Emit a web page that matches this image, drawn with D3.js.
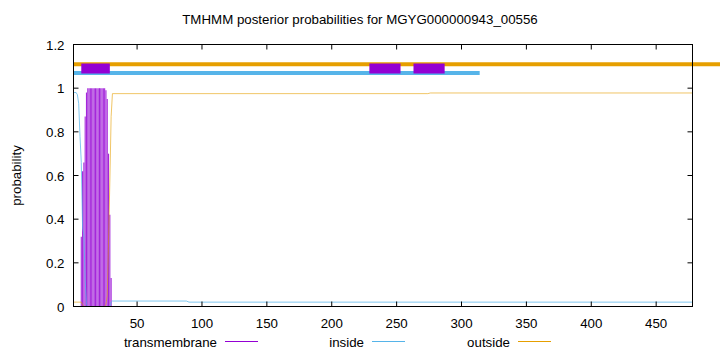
<!DOCTYPE html>
<html>
<head>
<meta charset="utf-8">
<script src="https://cdn.jsdelivr.net/npm/d3@7"></script>
<style>
  body { margin: 0; background: #fff; }
  text { font-family: "Liberation Sans", Arial, sans-serif; font-size: 13.3px; fill: #000; }
</style>
</head>
<body>
<div id="chart"></div>
<script>
// values
var seqLength = 478;
var xTicks = [50, 100, 150, 200, 250, 300, 350, 400, 450];
var yTicks = [0, 0.2, 0.4, 0.6, 0.8, 1, 1.2];

// per-residue transmembrane probability (residues not listed are 0)
var tmResidues = [7, 8, 9, 10, 11, 12, 13, 14, 15, 16, 17, 18, 19, 20, 21, 22, 23, 24, 25, 26, 27, 28, 29, 30];
var tmValues   = [0.32, 0.62, 0.66, 0.87, 0.98, 1, 1, 1, 1, 1, 1, 1, 1, 1, 1, 1, 1, 1, 1, 0.99, 0.95, 0.7, 0.42, 0.13];

// inside / outside curves as read points [residue, probability]
var insidePts = [[1, 0.98], [3, 0.98], [4, 0.97], [5, 0.93], [6, 0.78], [7, 0.66], [8, 0.36], [9, 0.33],
                 [10, 0.12], [11, 0.01], [12, 0], [29, 0], [30, 0.02], [31, 0.025], [88, 0.025], [90, 0.02], [478, 0.02]];
var outsidePts = [[1, 0.02], [7, 0.02], [8, 0.01], [9, 0], [25, 0], [26, 0.01], [27, 0.05], [28, 0.3],
                  [29, 0.57], [30, 0.87], [31, 0.975], [274, 0.975], [276, 0.978], [478, 0.978]];

// predicted topology lines at the top
var outsideRange = [1, 500];
var insideRange = [1, 314];
var tmBoxes = [[7, 29], [229, 253], [263, 287]];
var levels = {outside: 1.11, tm: 1.09, inside: 1.07};

var legendNames = ["transmembrane", "inside", "outside"];
var legendColors = ["#9400d3", "#56b4e9", "#e69f00"];
var colors = {tm: "#9400d3", inside: "#56b4e9", outside: "#e69f00"};

var width = 720, height = 352;
var margin = {top: 44.5, right: 27.5, bottom: 45.5, left: 73.5};

var svg = d3.select("#chart").append("svg")
    .attr("width", width)
    .attr("height", height);

var x = d3.scaleLinear().domain([1, seqLength]).range([margin.left, width - margin.right]);
var y = d3.scaleLinear().domain([0, 1.2]).range([height - margin.bottom, margin.top]);

// title
svg.append("text")
    .attr("x", 360)
    .attr("y", 24)
    .attr("text-anchor", "middle")
    .text("TMHMM posterior probabilities for MGYG000000943_00556");

// transmembrane impulses
svg.append("g").selectAll("line")
    .data(tmResidues)
    .enter()
    .append("line")
    .attr("x1", d => x(d))
    .attr("x2", d => x(d))
    .attr("y1", y(0))
    .attr("y2", (d, i) => y(tmValues[i]))
    .attr("stroke", colors.tm)
    .attr("stroke-opacity", 0.85)
    .attr("stroke-width", 1.1);

var line = d3.line().x(d => x(d[0])).y(d => y(d[1]));

svg.append("path")
    .attr("d", line(insidePts))
    .attr("fill", "none")
    .attr("stroke", colors.inside)
    .attr("stroke-opacity", 0.75)
    .attr("stroke-width", 1);

svg.append("path")
    .attr("d", line(outsidePts))
    .attr("fill", "none")
    .attr("stroke", colors.outside)
    .attr("stroke-opacity", 0.6)
    .attr("stroke-width", 1);

// topology lines
svg.append("line")
    .attr("x1", x(outsideRange[0])).attr("x2", x(outsideRange[1]))
    .attr("y1", y(levels.outside)).attr("y2", y(levels.outside))
    .attr("stroke", colors.outside)
    .attr("stroke-width", 4);

svg.append("line")
    .attr("x1", x(insideRange[0])).attr("x2", x(insideRange[1]))
    .attr("y1", y(levels.inside)).attr("y2", y(levels.inside))
    .attr("stroke", colors.inside)
    .attr("stroke-width", 4);

svg.append("g").selectAll("rect")
    .data(tmBoxes)
    .enter()
    .append("rect")
    .attr("x", d => x(d[0]))
    .attr("width", d => x(d[1]) - x(d[0]))
    .attr("y", y(levels.tm) - 5)
    .attr("height", 10)
    .attr("fill", colors.tm);

// frame
svg.append("rect")
    .attr("x", margin.left)
    .attr("y", margin.top)
    .attr("width", width - margin.left - margin.right)
    .attr("height", height - margin.top - margin.bottom)
    .attr("fill", "none")
    .attr("stroke", "#000")
    .attr("stroke-width", 1);

// ticks, pointing inward, mirrored
var tickLen = 5;
var ax = svg.append("g").attr("stroke", "#000").attr("stroke-width", 1);
xTicks.forEach(function(t) {
    ax.append("line").attr("x1", x(t)).attr("x2", x(t))
        .attr("y1", y(0)).attr("y2", y(0) - tickLen);
    ax.append("line").attr("x1", x(t)).attr("x2", x(t))
        .attr("y1", y(1.2)).attr("y2", y(1.2) + tickLen);
});
yTicks.forEach(function(t) {
    ax.append("line").attr("x1", x(1)).attr("x2", x(1) + tickLen)
        .attr("y1", y(t)).attr("y2", y(t));
    ax.append("line").attr("x1", x(seqLength)).attr("x2", x(seqLength) - tickLen)
        .attr("y1", y(t)).attr("y2", y(t));
});

svg.append("g").selectAll("text")
    .data(xTicks)
    .enter()
    .append("text")
    .attr("x", d => x(d))
    .attr("y", y(0) + 21)
    .attr("text-anchor", "middle")
    .text(d => d);

svg.append("g").selectAll("text")
    .data(yTicks)
    .enter()
    .append("text")
    .attr("x", margin.left - 9)
    .attr("y", d => y(d) + 5)
    .attr("text-anchor", "end")
    .text(d => d3.format("~g")(d));

svg.append("text")
    .attr("transform", "translate(21," + ((margin.top + y(0)) / 2) + ") rotate(-90)")
    .attr("text-anchor", "middle")
    .text("probability");

// legend
var legendX = [217, 364, 510];
var legend = svg.append("g").selectAll("g")
    .data(legendNames.map((name, i) => ({name: name, color: legendColors[i], x: legendX[i]})))
    .enter()
    .append("g")
    .attr("transform", d => "translate(" + d.x + ",342)");
legend.append("text")
    .attr("x", 0)
    .attr("y", 4.5)
    .attr("text-anchor", "end")
    .text(d => d.name);
legend.append("line")
    .attr("x1", 8).attr("x2", 41)
    .attr("y1", -0.5).attr("y2", -0.5)
    .attr("stroke", d => d.color)
    .attr("stroke-width", 1);
</script>
</body>
</html>
